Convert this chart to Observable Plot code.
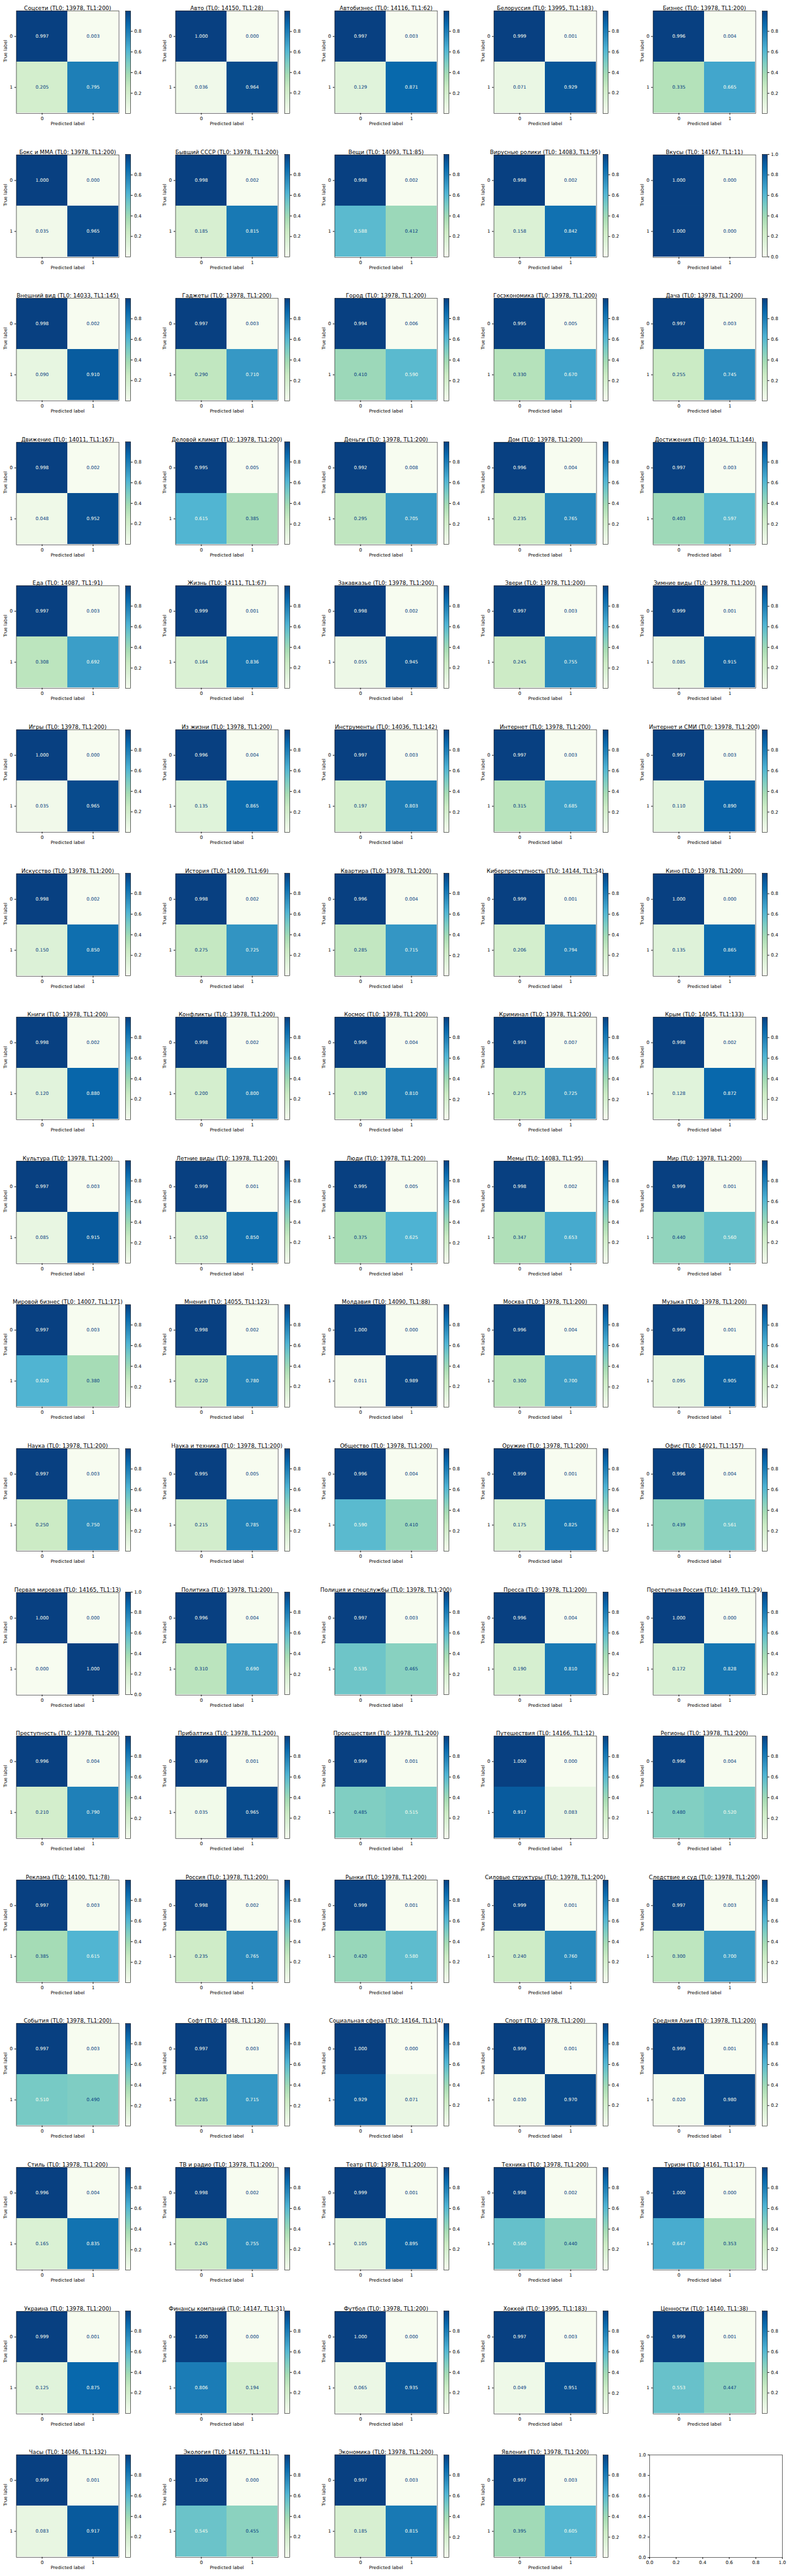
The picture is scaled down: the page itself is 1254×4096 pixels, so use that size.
<!DOCTYPE html>
<html><head><meta charset="utf-8">
<script src="https://cdn.jsdelivr.net/npm/d3@7"></script>
<script src="https://cdn.jsdelivr.net/npm/@observablehq/plot@0.6"></script>
<style>
body{margin:0;background:#fff;}
#fig{position:relative;width:1254px;height:4096px;overflow:hidden;font-family:"DejaVu Sans";background:#fff;}
#fig svg{position:absolute;}
</style></head><body><div id="fig"></div>
<script>
// ---- data ----
const topics = ["Соцсети","Авто","Автобизнес","Белоруссия","Бизнес",
"Бокс и ММА","Бывший СССР","Вещи","Вирусные ролики","Вкусы",
"Внешний вид","Гаджеты","Город","Госэкономика","Дача",
"Движение","Деловой климат","Деньги","Дом","Достижения",
"Еда","Жизнь","Закавказье","Звери","Зимние виды",
"Игры","Из жизни","Инструменты","Интернет","Интернет и СМИ",
"Искусство","История","Квартира","Киберпреступность","Кино",
"Книги","Конфликты","Космос","Криминал","Крым",
"Культура","Летние виды","Люди","Мемы","Мир",
"Мировой бизнес","Мнения","Молдавия","Москва","Музыка",
"Наука","Наука и техника","Общество","Оружие","Офис",
"Первая мировая","Политика","Полиция и спецслужбы","Пресса","Преступная Россия",
"Преступность","Прибалтика","Происшествия","Путешествия","Регионы",
"Реклама","Россия","Рынки","Силовые структуры","Следствие и суд",
"События","Софт","Социальная сфера","Спорт","Средняя Азия",
"Стиль","ТВ и радио","Театр","Техника","Туризм",
"Украина","Финансы компаний","Футбол","Хоккей","Ценности",
"Часы","Экология","Экономика","Явления"];
const tl0 = [13978,14150,14116,13995,13978,
13978,13978,14093,14083,14167,
14033,13978,13978,13978,13978,
14011,13978,13978,13978,14034,
14087,14111,13978,13978,13978,
13978,13978,14036,13978,13978,
13978,14109,13978,14144,13978,
13978,13978,13978,13978,14045,
13978,13978,13978,14083,13978,
14007,14055,14090,13978,13978,
13978,13978,13978,13978,14021,
14165,13978,13978,13978,14149,
13978,13978,13978,14166,13978,
14100,13978,13978,13978,13978,
13978,14048,14164,13978,13978,
13978,13978,13978,13978,14161,
13978,14147,13978,13995,14140,
14046,14167,13978,13978];
const tl1 = [200,28,62,183,200,
200,200,85,95,11,
145,200,200,200,200,
167,200,200,200,144,
91,67,200,200,200,
200,200,142,200,200,
200,69,200,34,200,
200,200,200,200,133,
200,200,200,95,200,
171,123,88,200,200,
200,200,200,200,157,
13,200,200,200,29,
200,200,200,12,200,
78,200,200,200,200,
200,130,14,200,200,
200,200,200,200,17,
200,31,200,183,38,
132,11,200,200];
// true 0 / predicted 0
const p00 = [.997,1.000,.997,.999,.996,
1.000,.998,.998,.998,1.000,
.998,.997,.994,.995,.997,
.998,.995,.992,.996,.997,
.997,.999,.998,.997,.999,
1.000,.996,.997,.997,.997,
.998,.998,.996,.999,1.000,
.998,.998,.996,.993,.998,
.997,.999,.995,.998,.999,
.997,.998,1.000,.996,.999,
.997,.995,.996,.999,.996,
1.000,.996,.997,.996,1.000,
.996,.999,.999,1.000,.996,
.997,.998,.999,.999,.997,
.997,.997,1.000,.999,.999,
.996,.998,.999,.998,1.000,
.999,1.000,1.000,.997,.999,
.999,1.000,.997,.997];
// true 0 / predicted 1
const p01 = [.003,0,.003,.001,.004,
0,.002,.002,.002,0,
.002,.003,.006,.005,.003,
.002,.005,.008,.004,.003,
.003,.001,.002,.003,.001,
0,.004,.003,.003,.003,
.002,.002,.004,.001,0,
.002,.002,.004,.007,.002,
.003,.001,.005,.002,.001,
.003,.002,0,.004,.001,
.003,.005,.004,.001,.004,
0,.004,.003,.004,0,
.004,.001,.001,0,.004,
.003,.002,.001,.001,.003,
.003,.003,0,.001,.001,
.004,.002,.001,.002,0,
.001,0,0,.003,.001,
.001,0,.003,.003];
// true 1 / predicted 0
const p10 = [.205,.036,.129,.071,.335,
.035,.185,.588,.158,1.000,
.090,.290,.410,.330,.255,
.048,.615,.295,.235,.403,
.308,.164,.055,.245,.085,
.035,.135,.197,.315,.110,
.150,.275,.285,.206,.135,
.120,.200,.190,.275,.128,
.085,.150,.375,.347,.440,
.620,.220,.011,.300,.095,
.250,.215,.590,.175,.439,
0,.310,.535,.190,.172,
.210,.035,.485,.917,.480,
.385,.235,.420,.240,.300,
.510,.285,.929,.030,.020,
.165,.245,.105,.560,.647,
.125,.806,.065,.049,.553,
.083,.545,.185,.395];
// true 1 / predicted 1
const p11 = [.795,.964,.871,.929,.665,
.965,.815,.412,.842,0,
.910,.710,.590,.670,.745,
.952,.385,.705,.765,.597,
.692,.836,.945,.755,.915,
.965,.865,.803,.685,.890,
.850,.725,.715,.794,.865,
.880,.800,.810,.725,.872,
.915,.850,.625,.653,.560,
.380,.780,.989,.700,.905,
.750,.785,.410,.825,.561,
1.000,.690,.465,.810,.828,
.790,.965,.515,.083,.520,
.615,.765,.580,.760,.700,
.490,.715,.071,.970,.980,
.835,.755,.895,.440,.353,
.875,.194,.935,.951,.447,
.917,.455,.815,.605];
const classTicks = [0, 1];
const colorbarTicks = [0.2, 0.4, 0.6, 0.8];
const fullColorbarTicks = [0, 0.2, 0.4, 0.6, 0.8, 1.0];
const fullRangeTopics = ["Вкусы", "Первая мировая"];
const emptyTicks = [0, 0.2, 0.4, 0.6, 0.8, 1.0];
const GNBU = ["#f7fcf0","#e0f3db","#ccebc5","#a8ddb5","#7bccc4","#4eb3d3","#2b8cbe","#0868ac","#084081"];

// ---- layout (reference px, scaled) ----
const S = 1254/2384;
const FONT = "DejaVu Sans";
const fs = 13.89*S, tfs = 16.67*S;
const colW = 480.8, rowH = 434.6;
const axL = 48.5, axT = 31.7, axW = 310, axH = 310;
const cbL = 379, cbW = 15.5;
const tick = 4.86*S;
const lw = 0.8*1.389*S;
const interp = d3.piecewise(d3.interpolateRgb, GNBU);
const fig = document.getElementById("fig");
const baseStyle = {background:"transparent", overflow:"visible", fontFamily: FONT, fontSize: fs+"px", color:"#000"};

function place(el, left, top) { el.style.left = left+"px"; el.style.top = top+"px"; fig.appendChild(el); }

topics.forEach((name, i) => {
  const c = i % 5, r = Math.floor(i / 5);
  const X0 = c*colW, Y0 = r*rowH;
  const cells = [
    {t:0, p:0, v:p00[i]}, {t:0, p:1, v:p01[i]},
    {t:1, p:0, v:p10[i]}, {t:1, p:1, v:p11[i]}];
  const vals = cells.map(d => d.v);
  const lo = d3.min(vals), hi = d3.max(vals), mid = (lo + hi) / 2;
  const color = {type:"linear", domain:[lo, hi], interpolate: interp};
  const mL = axL*S, mT = axT*S, mR = 6, mB = (rowH - axT - axH)*S;
  const W = mL + axW*S + mR, H = mT + axH*S + mB;
  const title = `${name} (TL0: ${tl0[i]}, TL1:${tl1[i]})`;
  const main = Plot.plot({
    width: W, height: H, marginLeft: mL, marginTop: mT, marginRight: mR, marginBottom: mB,
    style: baseStyle,
    x: {type:"band", domain: classTicks, padding: 0, tickSize: tick, tickPadding: 3, label: null},
    y: {type:"band", domain: classTicks, padding: 0, tickSize: tick, tickPadding: 3.3, label: null},
    color,
    marks: [
      Plot.cell(cells, {x:"p", y:"t", fill:"v", inset: 0}),
      Plot.text(cells, {filter: d => d.v < mid, x:"p", y:"t", text: d => d.v.toFixed(3), fill: GNBU[8], fontSize: fs}),
      Plot.text(cells, {filter: d => d.v >= mid, x:"p", y:"t", text: d => d.v.toFixed(3), fill: GNBU[0], fontSize: fs}),
      Plot.frame({stroke:"#000", strokeWidth: lw}),
      Plot.text([title], {frameAnchor:"top", dy:(17 - axT)*S, text: d => d, fontSize: tfs, fill:"#000"}),
      Plot.text(["Predicted label"], {frameAnchor:"bottom", dy:(377 - axT - axH)*S, text: d => d, fontSize: fs, fill:"#000"}),
      Plot.text(["True label"], {frameAnchor:"left", dx:(15 - axL)*S, rotate: -90, text: d => d, fontSize: fs, fill:"#000"})
    ]
  });
  place(main, X0*S, Y0*S);

  const cbTicks = fullRangeTopics.includes(name) ? fullColorbarTicks : colorbarTicks;
  const padV = 6;
  const bar = Plot.plot({
    width: cbW*S + 26, height: axH*S + 2*padV,
    marginLeft: 0, marginRight: 26, marginTop: padV, marginBottom: padV,
    style: baseStyle,
    x: {domain:[0, 1], axis: null},
    y: {domain:[lo, hi], axis:"right", ticks: cbTicks, tickFormat: ".1f", tickSize: tick, tickPadding: 3, label: null},
    color,
    marks: [
      Plot.raster({x1:0, x2:1, y1:lo, y2:hi, fill:(x, y) => y, width: 1, height: 256, imageRendering:"auto"}),
      Plot.frame({stroke:"#000", strokeWidth: lw})
    ]
  });
  place(bar, (X0 + cbL)*S, (Y0 + axT)*S - padV);
});

// empty last axes
{
  const mL = 22, mT = 6, mR = 10, mB = 16;
  const ew = 401*S, eh = 310.3*S;
  const empty = Plot.plot({
    width: ew + mL + mR, height: eh + mT + mB,
    marginLeft: mL, marginTop: mT, marginRight: mR, marginBottom: mB,
    style: baseStyle,
    x: {domain:[0, 1], ticks: emptyTicks, tickFormat: ".1f", tickSize: tick, tickPadding: 3, label: null},
    y: {domain:[0, 1], ticks: emptyTicks, tickFormat: ".1f", tickSize: tick, tickPadding: 3.3, label: null},
    marks: [Plot.frame({stroke:"#000", strokeWidth: lw})]
  });
  place(empty, 1962.3*S - mL, 7420.7*S - mT);
}
</script></body></html>
